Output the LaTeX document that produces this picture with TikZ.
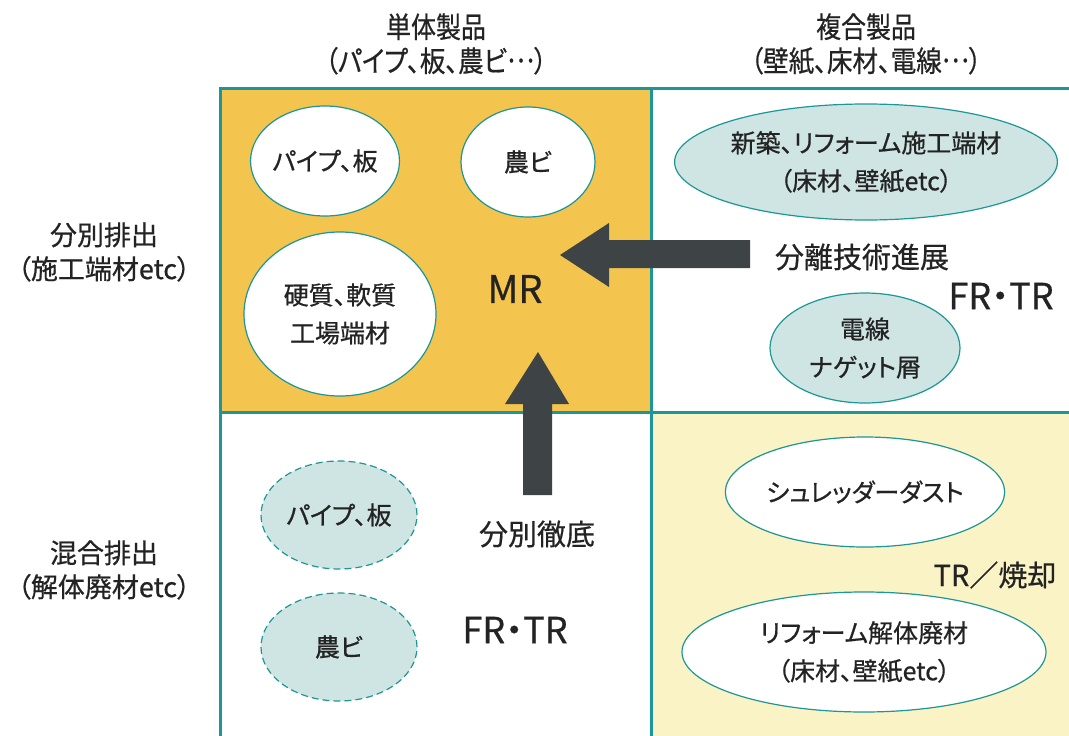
\documentclass[tikz,border=0pt]{standalone}
\usepackage{fontspec}
\setmainfont{Noto Sans CJK JP}[RawFeature=+palt, FakeBold=0.6]
\usetikzlibrary{shapes.geometric}
\definecolor{gold}{RGB}{243,196,78}
\definecolor{pale}{RGB}{250,243,198}
\definecolor{tealline}{RGB}{28,150,150}
\definecolor{tealfill}{RGB}{206,229,227}
\definecolor{ink}{RGB}{35,35,35}
\definecolor{arrowgrey}{RGB}{62,67,70}
\newcommand{\middots}{\raisebox{0.33em}{…}}
\begin{document}
\begin{tikzpicture}[x=1pt,y=-1pt,
  gridline/.style={draw=tealline, line width=3pt},
  lab/.style={font=\fontsize{25}{38}\selectfont, text=ink, align=center},
  biglab/.style={font=\fontsize{29}{34}\selectfont, text=ink, align=center},
  sidelab/.style={font=\fontsize{27}{34}\selectfont, text=ink, align=center},
  ell/.style={ellipse, draw=tealline, line width=1.2pt, inner sep=0pt, lab},
  whiteell/.style={ell, fill=white},
  tealell/.style={ell, fill=tealfill},
  dashell/.style={ell, fill=tealfill, dashed, dash pattern=on 7pt off 4pt},
  blockarrow/.style={fill=arrowgrey}]
\useasboundingbox (0,0) rectangle (1069,736);
% quadrant fills
\fill[gold] (220,88) rectangle (651,412);
\fill[pale] (651,412) rectangle (1069,736);
% grid
\draw[gridline] (1069,88) -- (220,88) -- (220,736);
\draw[gridline] (651,88) -- (651,736);
\draw[gridline] (220,412) -- (1069,412);
% headings
\node[sidelab, font=\fontsize{29}{34}\selectfont] (colA) at (436,44) {\scalebox{0.86}[1]{単体製品}\\\scalebox{0.88}[1]{（パイプ、板、農ビ\middots）}};
\node[sidelab, font=\fontsize{29}{34}\selectfont] (colB) at (866,44) {\scalebox{0.86}[1]{複合製品}\\\scalebox{0.88}[1]{（壁紙、床材、電線\middots）}};
\node[sidelab] (rowA) at (104,252) {分別排出\\（施工端材etc）};
\node[sidelab] (rowB) at (104,570) {混合排出\\（解体廃材etc）};
% top-left quadrant
\node[whiteell, minimum width=130pt, minimum height=110pt] (pipeA) at (325,161) {パイプ、板};
\node[whiteell, minimum width=134pt, minimum height=110pt] (nobiA) at (528,162) {農ビ};
\node[whiteell, minimum width=192pt, minimum height=164pt] (hard) at (340,314) {硬質、軟質\\工場端材};
\node[biglab, font=\fontsize{38}{40}\selectfont] (mr) at (515,289) {MR};
% top-right quadrant
\node[tealell, minimum width=372pt, minimum height=116pt] (shinchiku) at (866,162) {新築、リフォーム施工端材\\（床材、壁紙etc）};
\node[biglab] (bunri) at (862,257) {分離技術進展};
\node[biglab, font=\fontsize{36}{38}\selectfont] (frtrA) at (1001,296) {FR・TR};
\node[tealell, minimum width=190pt, minimum height=110pt] (densen) at (865,348) {電線\\ナゲット屑};
% bottom-left quadrant
\node[dashell, minimum width=156pt, minimum height=108pt] (pipeB) at (339,515) {パイプ、板};
\node[dashell, minimum width=156pt, minimum height=108pt] (nobiB) at (339,647) {農ビ};
\node[biglab] (tettei) at (537,534) {分別徹底};
\node[biglab, font=\fontsize{36}{38}\selectfont] (frtrB) at (515,630) {FR・TR};
% bottom-right quadrant
\node[whiteell, minimum width=256pt, minimum height=110pt] (dust) at (865,492) {シュレッダーダスト};
\node[biglab] (shokyaku) at (995,575) {TR／焼却};
\node[whiteell, minimum width=364pt, minimum height=120pt] (kaitai) at (864,652) {リフォーム解体廃材\\（床材、壁紙etc）};
% block arrows
\coordinate (leftTip) at (560,255);
\coordinate (upTip) at (538,352);
\fill[blockarrow] (750,240) -- (609,240) -- (609,223) -- (leftTip) -- (609,287) -- (609,268) -- (750,268) -- cycle;
\fill[blockarrow] (523,495) -- (523,404) -- (505,404) -- (upTip) -- (569,404) -- (552,404) -- (552,495) -- cycle;
\end{tikzpicture}
\end{document}
